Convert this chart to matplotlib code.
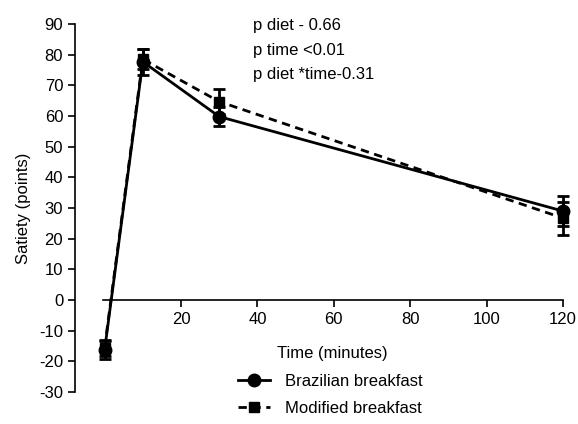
import matplotlib
matplotlib.use('Agg')
from matplotlib import pyplot as plt
from matplotlib.lines import Line2D
import numpy as np

plt.rcParams['font.family'] = ['Liberation Sans', 'DejaVu Sans']
plt.rcParams['axes.unicode_minus'] = False

time = [0, 10, 30, 120]
brazilian = [-16.3, 77.7, 59.8, 29.0]
brazilian_err = [3.0, 4.2, 3.1, 5.0]
modified = [-15.5, 78.5, 64.7, 26.7]
modified_err = [2.6, 3.3, 4.0, 5.4]
p_lines = ['p diet - 0.66', 'p time <0.01', 'p diet *time-0.31']

fig = plt.figure(figsize=(5.78, 4.24), dpi=100)
ax = fig.add_axes([75 / 578, 1 - 392 / 424, 0.8575, 368 / 424])

dash = (0, (3, 2))
ax.errorbar(time, brazilian, yerr=brazilian_err, color='black', lw=2,
            marker='o', ms=9, capsize=4, capthick=2, elinewidth=2,
            clip_on=False, zorder=3)
ax.errorbar(time, modified, yerr=modified_err, color='black', lw=2,
            ls=dash, marker='s', ms=7.5, capsize=4, capthick=2,
            elinewidth=2, clip_on=False, zorder=3)

ax.set_xlim(-7.75, 122)
ax.set_ylim(-30, 90)
ax.spines['top'].set_visible(False)
ax.spines['right'].set_visible(False)
ax.spines['bottom'].set_position(('data', 0))
ax.spines['bottom'].set_bounds(-0.5, 120)
ax.spines['left'].set_linewidth(1.2)
ax.spines['bottom'].set_linewidth(1.2)

ax.set_xticks([20, 40, 60, 80, 100, 120])
ax.set_yticks(np.arange(-30, 91, 10))
ax.tick_params(axis='both', labelsize=12, width=1.2, length=5)
ax.tick_params(axis='x', pad=4)

ax.set_xlabel('Time (minutes)', fontsize=12)
ax.xaxis.set_label_coords(0.52, 0.125)
ax.set_ylabel('Satiety (points)', fontsize=12, labelpad=6)

for i, s in enumerate(p_lines):
    fig.text(253 / 578, 1 - (18 + i * 24.5) / 424, s, fontsize=12, va='top')

handles = [
    Line2D([], [], color='black', lw=2, marker='o', ms=9),
    Line2D([], [], color='black', lw=2, ls=dash, marker='s', ms=7.5),
]
fig.legend(handles, ['Brazilian breakfast', 'Modified breakfast'],
           loc='upper left', bbox_to_anchor=(238 / 578, 1 - 374 / 424),
           frameon=False, fontsize=12, handlelength=1.9, handletextpad=0.9,
           labelspacing=0.7, borderpad=0, borderaxespad=0)

plt.savefig('out.png', dpi=100)
